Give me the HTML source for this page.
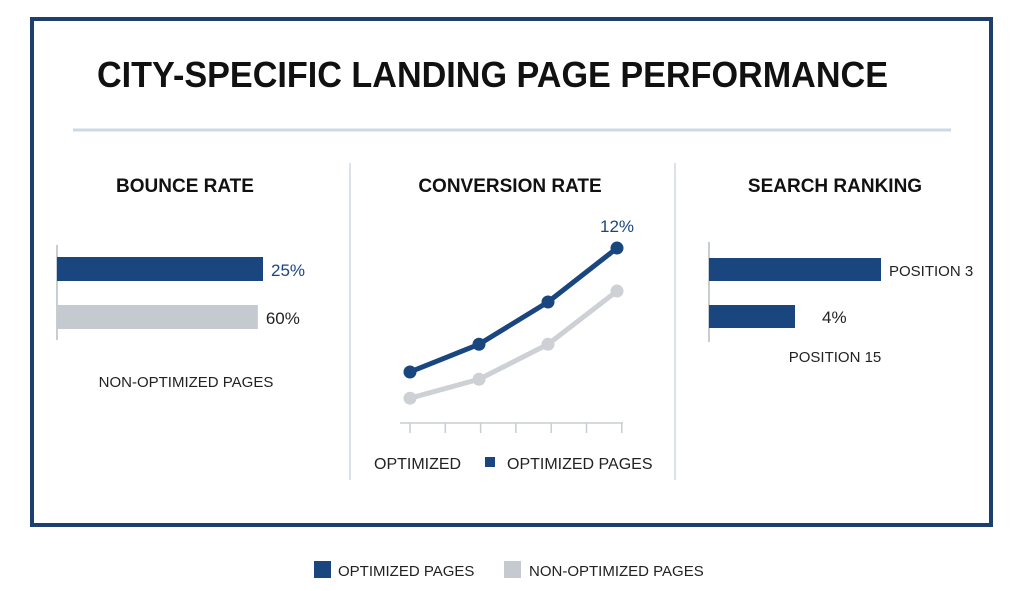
<!DOCTYPE html>
<html><head><meta charset="utf-8"><style>
body{margin:0;width:1024px;height:591px;background:#fff;overflow:hidden;font-family:"Liberation Sans",sans-serif;}
svg{display:block}
</style></head><body>
<svg width="1024" height="591">
<rect x="32" y="19" width="959" height="506" fill="none" stroke="#1d3f6e" stroke-width="4"/>
<text x="97" y="87" font-size="36" font-weight="bold" fill="#111" textLength="791" lengthAdjust="spacingAndGlyphs">CITY-SPECIFIC LANDING PAGE PERFORMANCE</text>
<line x1="73" y1="130" x2="951" y2="130" stroke="#cbd8e6" stroke-width="3"/>
<line x1="350" y1="163" x2="350" y2="480" stroke="#dde2e8" stroke-width="2"/>
<line x1="675" y1="163" x2="675" y2="480" stroke="#dde2e8" stroke-width="2"/>
<g font-size="19" font-weight="bold" fill="#111" text-anchor="middle">
<text x="185" y="192">BOUNCE RATE</text>
<text x="510" y="192">CONVERSION RATE</text>
<text x="835" y="192">SEARCH RANKING</text>
</g>
<g id="bounce"></g>
<g id="conv"></g>
<g id="rank"></g>
<g>
<rect x="314" y="561" width="17" height="17" fill="#1a4680"/>
<text x="338" y="576" font-size="15" fill="#222">OPTIMIZED PAGES</text>
<rect x="504" y="561" width="17" height="17" fill="#c5cad1"/>
<text x="529" y="576" font-size="15" fill="#222">NON-OPTIMIZED PAGES</text>
</g>
</svg>
<script>
const NS='http://www.w3.org/2000/svg';
// Bounce rate (drawn relative lengths as shown)
const bounceLabels=['25%','60%'];
const bounceLengths=[100,97.5];
// Search ranking
const rankLabels=['POSITION 3','4%'];
const rankLengths=[100,50];
// Conversion rate series
const convX=[0,1,2,3];
const convOptimized=[3.5,5.4,8.3,12];
const convNonOptimized=[1.7,3.0,5.4,9.05];
const convTopLabel='12%';

function mk(tag,attrs,parent){const e=document.createElementNS(NS,tag);for(const k in attrs)e.setAttribute(k,attrs[k]);parent.appendChild(e);return e;}
const colors=['#1a4680','#c5cad1'];

// Bounce
const gb=document.getElementById('bounce');
let ax=mk('line',{x1:57,y1:245,x2:57,y2:340,stroke:'#c8cdd3','stroke-width':2},gb);

const bx=v=>v/100*206;
bounceLengths.forEach((v,i)=>{
 const r=mk('rect',{x:57,y:257+i*48,width:bx(v),height:24,fill:colors[i]},gb);
 
 
 const t=mk('text',{x:57+bx(v)+8,y:276+i*48,'font-size':17,fill:i?'#222':'#1a4680'},gb);
 t.textContent=bounceLabels[i];
 
 
});
let bt=mk('text',{x:186,y:387,'font-size':15,fill:'#222','text-anchor':'middle'},gb);bt.textContent='NON-OPTIMIZED PAGES';


// Rank
const gr=document.getElementById('rank');
ax=mk('line',{x1:709,y1:242,x2:709,y2:342,stroke:'#c8cdd3','stroke-width':2},gr);

const rx=v=>v/100*172;
rankLengths.forEach((v,i)=>{
 const r=mk('rect',{x:709,y:258+i*47,width:rx(v),height:23,fill:'#1a4680'},gr);
 
 
 const t=mk('text',{x:709+rx(v)+(i?27:8),y:276+i*47,'font-size':i?17:15,fill:'#222'},gr);
 t.textContent=rankLabels[i];
 
 
});
let rt=mk('text',{x:835,y:362,'font-size':15,fill:'#222','text-anchor':'middle'},gr);rt.textContent='POSITION 15';


// Conversion
const gc=document.getElementById('conv');
const cx=i=>410+i*69;
const cy=v=>423-v*14.58;
ax=mk('line',{x1:400,y1:423,x2:623,y2:423,stroke:'#c8cdd3','stroke-width':1.5},gc);

for(let k=0;k<7;k++){const tk=mk('line',{x1:410+k*35.3,y1:423,x2:410+k*35.3,y2:433,stroke:'#c8cdd3','stroke-width':1.5},gc);
 
 }
[[convNonOptimized,'#cdd0d4','non-optimized'],[convOptimized,'#1a4680','optimized']].forEach(([s,c,n])=>{
 const p=mk('polyline',{points:s.map((v,i)=>cx(convX[i])+','+cy(v)).join(' '),fill:'none',stroke:c,'stroke-width':5,'stroke-linejoin':'round'},gc);
 
 
 s.forEach((v,i)=>{const d=mk('circle',{cx:cx(convX[i]),cy:cy(v),r:6.5,fill:c},gc);
  
  });
});
let ct=mk('text',{x:cx(3),y:cy(convOptimized[3])-16,'font-size':17,fill:'#1a4680','text-anchor':'middle'},gc);ct.textContent=convTopLabel;

let l1=mk('text',{x:374,y:469,'font-size':16,fill:'#222'},gc);l1.textContent='OPTIMIZED';

let sq=mk('rect',{x:485,y:457,width:10,height:10,fill:'#1a4680'},gc);

let l2=mk('text',{x:507,y:469,'font-size':16,fill:'#222'},gc);l2.textContent='OPTIMIZED PAGES';

</script>
</body></html>
